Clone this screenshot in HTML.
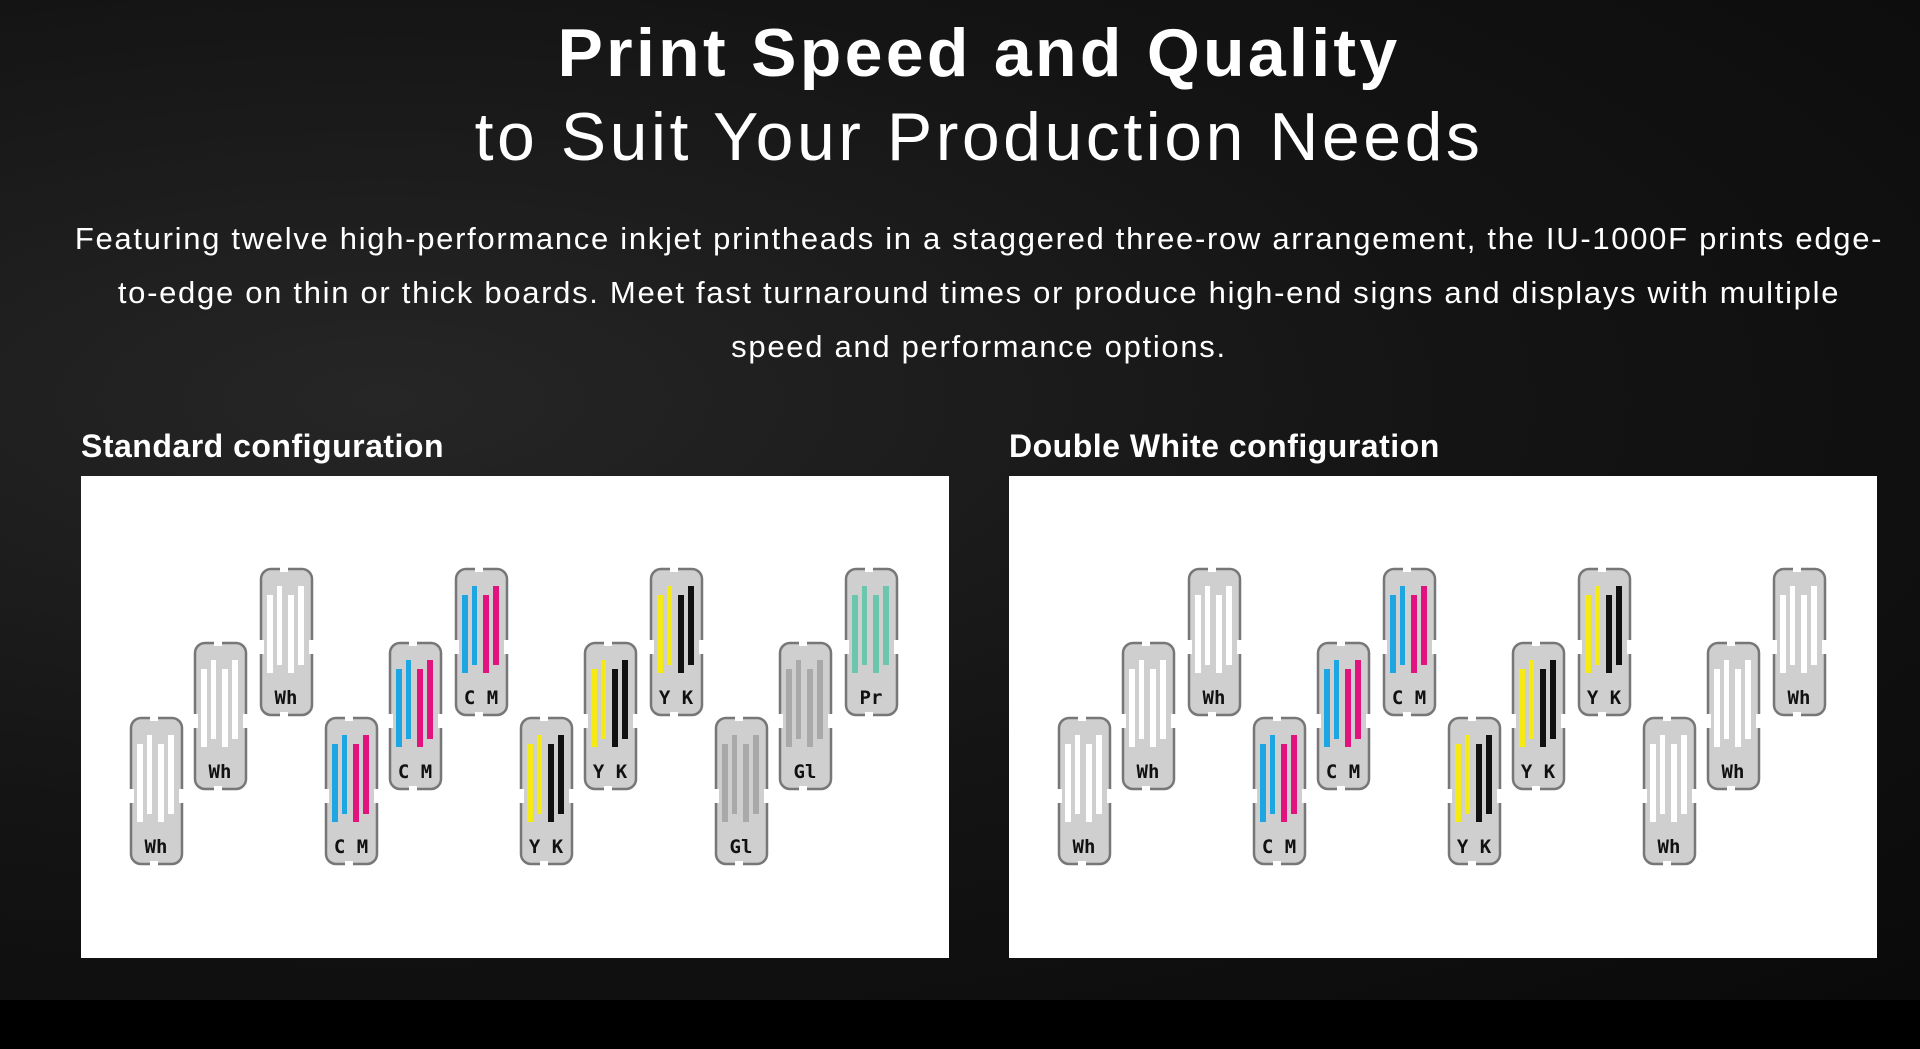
<!DOCTYPE html>
<html><head><meta charset="utf-8"><style>
html,body{margin:0;padding:0;width:1920px;height:1049px;overflow:hidden;background:#000;}
#bg{position:absolute;left:0;top:0;width:1920px;height:1000px;background:radial-gradient(ellipse at 20% 40%,#262626 0%,#141414 50%,#0a0a0a 100%);}
.t{position:absolute;left:19px;width:1920px;text-align:center;color:#fff;font-family:"Liberation Sans",sans-serif;white-space:nowrap;}
.h1{top:14px;font-size:68px;font-weight:bold;letter-spacing:3.3px;}
.h2{top:98px;font-size:68px;font-weight:normal;letter-spacing:3.5px;}
.p{top:212px;font-size:31px;line-height:54px;letter-spacing:1.7px;}
.sub{position:absolute;top:428px;color:#fff;font:bold 32px "Liberation Sans",sans-serif;letter-spacing:0.5px;}
.panel{position:absolute;top:476px;width:868px;height:482px;background:#fff;}
</style></head><body>
<div id="bg"></div>
<div class="t h1">Print Speed and Quality</div>
<div class="t h2">to Suit Your Production Needs</div>
<div class="t p">Featuring twelve high-performance inkjet printheads in a staggered three-row arrangement, the IU-1000F prints edge-<br>to-edge on thin or thick boards. Meet fast turnaround times or produce high-end signs and displays with multiple<br>speed and performance options.</div>
<div class="sub" style="left:81px">Standard configuration</div>
<div class="sub" style="left:1009px">Double White configuration</div>

<svg width="0" height="0" style="position:absolute">
<defs>
<g id="fr">
<rect x="1" y="1" width="51" height="146" rx="10" fill="#cfcfcf" stroke="#777" stroke-width="2.5"/>
<rect x="20" y="-1" width="8" height="5" fill="#fff"/>
<rect x="20" y="144" width="8" height="5" fill="#fff"/>
<rect x="-1" y="72" width="5" height="14" fill="#fff"/>
<rect x="49" y="72" width="5" height="14" fill="#fff"/>
</g>
<g id="wh"><use href="#fr"/><g fill="#fff"><rect x="7" y="27" width="6" height="78"/><rect x="17" y="18" width="5" height="79"/><rect x="28" y="27" width="6" height="78"/><rect x="38" y="18" width="6" height="79"/></g></g>
<g id="cm"><use href="#fr"/><rect x="7" y="27" width="6" height="78" fill="#1da6e2"/><rect x="17" y="18" width="5" height="79" fill="#1da6e2"/><rect x="28" y="27" width="6" height="78" fill="#e2127f"/><rect x="38" y="18" width="6" height="79" fill="#e2127f"/></g>
<g id="yk"><use href="#fr"/><rect x="7" y="27" width="6" height="78" fill="#f5ea14"/><rect x="17" y="18" width="5" height="79" fill="#f5ea14"/><rect x="28" y="27" width="6" height="78" fill="#111"/><rect x="38" y="18" width="6" height="79" fill="#111"/></g>
<g id="gl"><use href="#fr"/><g fill="#a9a9a9"><rect x="7" y="27" width="6" height="78"/><rect x="17" y="18" width="5" height="79"/><rect x="28" y="27" width="6" height="78"/><rect x="38" y="18" width="6" height="79"/></g></g>
<g id="pr"><use href="#fr"/><g fill="#6cc6ae"><rect x="7" y="27" width="6" height="78"/><rect x="17" y="18" width="5" height="79"/><rect x="28" y="27" width="6" height="78"/><rect x="38" y="18" width="6" height="79"/></g></g>
</defs></svg>

<svg class="panel" style="left:81px" width="868" height="482" font-family="DejaVu Sans Mono,monospace" font-size="19" font-weight="bold" fill="#111" text-anchor="middle">
<use href="#wh" x="49" y="241"/><text x="75" y="377">Wh</text>
<use href="#wh" x="113" y="166"/><text x="139" y="302">Wh</text>
<use href="#wh" x="179" y="92"/><text x="205" y="228">Wh</text>
<use href="#cm" x="244" y="241"/><text x="270" y="377">C M</text>
<use href="#cm" x="308" y="166"/><text x="334" y="302">C M</text>
<use href="#cm" x="374" y="92"/><text x="400" y="228">C M</text>
<use href="#yk" x="439" y="241"/><text x="465" y="377">Y K</text>
<use href="#yk" x="503" y="166"/><text x="529" y="302">Y K</text>
<use href="#yk" x="569" y="92"/><text x="595" y="228">Y K</text>
<use href="#gl" x="634" y="241"/><text x="660" y="377">Gl</text>
<use href="#gl" x="698" y="166"/><text x="724" y="302">Gl</text>
<use href="#pr" x="764" y="92"/><text x="790" y="228">Pr</text>
</svg>

<svg class="panel" style="left:1009px" width="868" height="482" font-family="DejaVu Sans Mono,monospace" font-size="19" font-weight="bold" fill="#111" text-anchor="middle">
<use href="#wh" x="49" y="241"/><text x="75" y="377">Wh</text>
<use href="#wh" x="113" y="166"/><text x="139" y="302">Wh</text>
<use href="#wh" x="179" y="92"/><text x="205" y="228">Wh</text>
<use href="#cm" x="244" y="241"/><text x="270" y="377">C M</text>
<use href="#cm" x="308" y="166"/><text x="334" y="302">C M</text>
<use href="#cm" x="374" y="92"/><text x="400" y="228">C M</text>
<use href="#yk" x="439" y="241"/><text x="465" y="377">Y K</text>
<use href="#yk" x="503" y="166"/><text x="529" y="302">Y K</text>
<use href="#yk" x="569" y="92"/><text x="595" y="228">Y K</text>
<use href="#wh" x="634" y="241"/><text x="660" y="377">Wh</text>
<use href="#wh" x="698" y="166"/><text x="724" y="302">Wh</text>
<use href="#wh" x="764" y="92"/><text x="790" y="228">Wh</text>
</svg>
</body></html>
